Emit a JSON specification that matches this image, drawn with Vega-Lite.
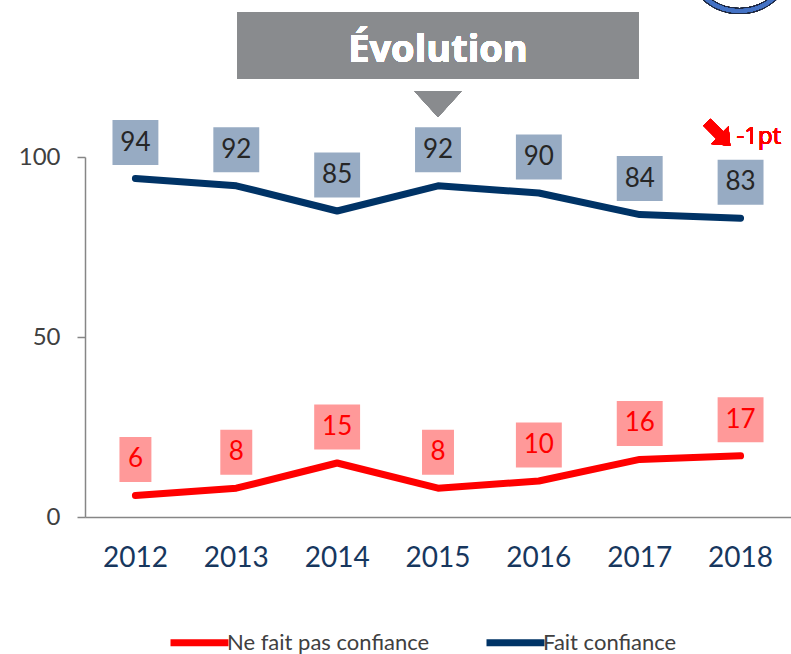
{
  "$schema": "https://vega.github.io/schema/vega-lite/v6.json",
  "width": 706,
  "height": 360,
  "autosize": "none",
  "padding": {"left": 85, "top": 157, "right": 0, "bottom": 137},
  "background": "white",
  "config": {"view": {"stroke": null}, "font": "Lato"},
  "data": {"values": [
    {"year": "2012", "series": "Fait confiance", "value": 94},
    {"year": "2013", "series": "Fait confiance", "value": 92},
    {"year": "2014", "series": "Fait confiance", "value": 85},
    {"year": "2015", "series": "Fait confiance", "value": 92},
    {"year": "2016", "series": "Fait confiance", "value": 90},
    {"year": "2017", "series": "Fait confiance", "value": 84},
    {"year": "2018", "series": "Fait confiance", "value": 83},
    {"year": "2012", "series": "Ne fait pas confiance", "value": 6},
    {"year": "2013", "series": "Ne fait pas confiance", "value": 8},
    {"year": "2014", "series": "Ne fait pas confiance", "value": 15},
    {"year": "2015", "series": "Ne fait pas confiance", "value": 8},
    {"year": "2016", "series": "Ne fait pas confiance", "value": 10},
    {"year": "2017", "series": "Ne fait pas confiance", "value": 16},
    {"year": "2018", "series": "Ne fait pas confiance", "value": 17}
  ]},
  "encoding": {
    "x": {"field": "year", "type": "ordinal", "scale": {"type": "band", "paddingInner": 0, "paddingOuter": 0},
      "axis": {"title": null, "ticks": false, "domainColor": "#868686", "domainWidth": 1.5, "labelFontSize": 28, "labelColor": "#17375e", "labelPadding": 27, "labelAngle": 0, "labelFont": "Lato"}},
    "y": {"field": "value", "type": "quantitative", "scale": {"domain": [0, 100], "nice": false},
      "axis": {"title": null, "grid": false, "values": [0, 50, 100], "domainColor": "#868686", "domainWidth": 1.5, "tickColor": "#868686", "tickWidth": 1.5, "tickSize": 8, "labelFontSize": 24, "labelColor": "#404040", "labelPadding": 17, "labelFont": "Lato"}}
  },
  "layer": [
    {
      "mark": {"type": "line", "strokeWidth": 7, "strokeCap": "round", "strokeJoin": "round"},
      "encoding": {
        "color": {"field": "series", "type": "nominal",
          "scale": {"domain": ["Ne fait pas confiance", "Fait confiance"], "range": ["#ff0000", "#003366"]},
          "legend": {"orient": "none", "legendX": 82, "legendY": 453, "direction": "horizontal", "title": null,
            "symbolType": "stroke", "symbolSize": 3364, "symbolStrokeWidth": 7, "labelFontSize": 22, "labelLimit": 400,
            "labelColor": "#404040", "labelFont": "Lato", "columnPadding": 42, "labelOffset": -5}}
      }
    },
    {
      "transform": [{"filter": "datum.value >= 10"}],
      "mark": {"type": "point", "shape": "M-1.02,-1H1.02V1H-1.02Z", "filled": true, "opacity": 1, "size": 2025, "yOffset": -36, "strokeWidth": 0},
      "encoding": {
        "fill": {"condition": {"test": "datum.series === 'Fait confiance'", "value": "#97abc3"}, "value": "#ff9999"}
      }
    },
    {
      "transform": [{"filter": "datum.value < 10"}],
      "mark": {"type": "point", "shape": "M-0.71,-1H0.71V1H-0.71Z", "filled": true, "opacity": 1, "size": 2025, "yOffset": -36, "strokeWidth": 0},
      "encoding": {
        "fill": {"condition": {"test": "datum.series === 'Fait confiance'", "value": "#97abc3"}, "value": "#ff9999"}
      }
    },
    {
      "mark": {"type": "text", "fontSize": 26, "dy": -36, "baseline": "middle", "align": "center", "font": "Lato"},
      "encoding": {
        "text": {"field": "value", "type": "quantitative"},
        "fill": {"condition": {"test": "datum.series === 'Fait confiance'", "value": "#262626"}, "value": "#ff0000"}
      }
    },
    {
      "mark": {"type": "point", "shape": "M-1,-0.167H1V0.167H-1Z", "filled": true, "opacity": 1, "color": "#898b8e", "size": 160801},
      "encoding": {"x": {"datum": "2015"}, "y": {"datum": 130.97, "scale": {"domain": [0, 100], "nice": false}}}
    },
    {
      "mark": {"type": "point", "shape": "M-1,-0.55L1,-0.55L0,0.55Z", "filled": true, "opacity": 1, "color": "#898b8e", "size": 2209},
      "encoding": {"x": {"datum": "2015"}, "y": {"datum": 114.7, "scale": {"domain": [0, 100], "nice": false}}}
    },
    {
      "mark": {"type": "text", "text": "Évolution", "fontSize": 38, "fontWeight": "bold", "color": "white", "align": "center", "baseline": "alphabetic", "font": "Open Sans"},
      "encoding": {"x": {"datum": "2015"}, "y": {"datum": 126.4, "scale": {"domain": [0, 100], "nice": false}}}
    },
    {
      "mark": {"type": "text", "text": "-1pt", "fontSize": 24, "fontWeight": "normal", "color": "#ff0000", "align": "left", "baseline": "middle", "dx": -4, "font": "Open Sans"},
      "encoding": {"x": {"datum": "2018"}, "y": {"datum": 105.6, "scale": {"domain": [0, 100], "nice": false}}}
    },
    {
      "mark": {"type": "point", "shape": "M-1,-0.3L0.1,-0.3L0.1,-0.75L1,0L0.1,0.75L0.1,0.3L-1,0.3Z", "angle": 45, "filled": true, "opacity": 1, "color": "#ff0000", "size": 1100, "xOffset": -22},
      "encoding": {"x": {"datum": "2018"}, "y": {"datum": 106.4, "scale": {"domain": [0, 100], "nice": false}}}
    },
    {
      "mark": {"type": "point", "shape": "circle", "filled": false, "opacity": 1, "stroke": "#1f2a44", "strokeWidth": 6, "size": 10816, "xOffset": -1},
      "encoding": {"x": {"datum": "2018"}, "y": {"datum": 155, "scale": {"domain": [0, 100], "nice": false}}}
    },
    {
      "mark": {"type": "point", "shape": "circle", "filled": false, "opacity": 1, "stroke": "#4472c4", "strokeWidth": 3.5, "size": 10816, "xOffset": -1},
      "encoding": {"x": {"datum": "2018"}, "y": {"datum": 155, "scale": {"domain": [0, 100], "nice": false}}}
    }
  ]
}
